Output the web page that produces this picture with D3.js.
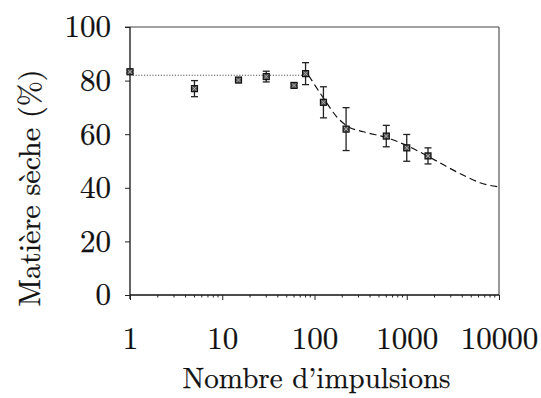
<!DOCTYPE html>
<html>
<head>
<meta charset="utf-8">
<script src="https://cdn.jsdelivr.net/npm/d3@7"></script>
<style>
  html, body { margin: 0; padding: 0; background: #fff; }
  svg { display: block; }
</style>
</head>
<body>
<svg id="chart" width="541" height="398"></svg>
<script>
// ---- data ----
const pulses = [1, 5, 15, 30, 60, 80, 125, 220, 600, 1000, 1700];
const dryMatter = [83.3, 77.0, 80.2, 81.5, 78.2, 82.6, 71.9, 61.9, 59.3, 54.9, 51.9];
const errors = [0.6, 3.0, 0.6, 2.0, 0.8, 4.1, 5.8, 8.0, 4.0, 5.0, 3.0];

const plateauX = [1, 80];
const plateauY = [82.0, 82.0];

const fitX = [86, 129, 174, 224, 339, 597, 1024, 1671, 2710, 4467, 6220, 10000];
const fitY = [82.0, 72.8, 66.5, 63.1, 60.9, 58.8, 55.6, 51.9, 47.9, 44.1, 41.9, 40.3];

const xTicks = [1, 10, 100, 1000, 10000];
const yTicks = [0, 20, 40, 60, 80, 100];
const xTitle = "Nombre d\u2019impulsions";
const yTitle = "Matière sèche (%)";

// ---- layout ----
const FONT = "Latin Modern Roman";
const svg = d3.select("#chart");
const pLeft = 130, pRight = 499, pTop = 27, pBottom = 295;

const x = d3.scaleLog().domain([1, 10000]).range([pLeft, pRight]);
const y = d3.scaleLinear().domain([0, 100]).range([pBottom, pTop]);

// frame (top/right)
svg.append("line").attr("x1", pLeft - 5).attr("x2", pRight).attr("y1", pTop).attr("y2", pTop)
  .attr("stroke", "#444").attr("stroke-width", 1.2);
svg.append("line").attr("x1", pRight).attr("x2", pRight).attr("y1", pTop).attr("y2", pBottom)
  .attr("stroke", "#555").attr("stroke-width", 1.2);

// y axis
const yAxis = d3.axisLeft(y).tickValues(yTicks).tickSize(5).tickFormat(d3.format("d"));
const gy = svg.append("g").attr("transform", `translate(${pLeft},0)`).call(yAxis)
  .attr("font-family", FONT).attr("font-size", 31);
gy.select(".domain").attr("stroke", "#111").attr("stroke-width", 1.3).attr("d", `M0,${pTop}V${pBottom + 4}`);
gy.selectAll(".tick line").attr("stroke", "#222");
gy.selectAll(".tick text").attr("x", -19).attr("fill", "#111")
  .attr("stroke", "#111").attr("stroke-width", 0.25);

// x axis with minor ticks
const minor = [];
for (let dec = 1; dec < 10000; dec *= 10) for (let k = 2; k <= 9; k++) minor.push(dec * k);
const xAxis = d3.axisBottom(x).tickValues(xTicks).tickSize(5).tickFormat(d3.format("d"));
const gx = svg.append("g").attr("transform", `translate(0,${pBottom})`).call(xAxis)
  .attr("font-family", FONT).attr("font-size", 31);
gx.select(".domain").attr("stroke", "#111").attr("stroke-width", 1.3).attr("d", `M${pLeft},0H${pRight}`);
gx.selectAll(".tick line").attr("stroke", "#222");
gx.selectAll(".tick text").attr("y", 54).attr("dy", 0).attr("fill", "#111")
  .attr("stroke", "#111").attr("stroke-width", 0.25);
gx.selectAll(".minor").data(minor).enter().append("line")
  .attr("class", "minor")
  .attr("x1", d => x(d)).attr("x2", d => x(d)).attr("y1", 0).attr("y2", 2.5)
  .attr("stroke", "#222").attr("stroke-width", 1);

// titles
svg.append("text").attr("x", (pLeft + pRight) / 2 + 2).attr("y", 388)
  .attr("text-anchor", "middle").attr("font-family", FONT).attr("font-size", 29).attr("fill", "#111")
  .attr("stroke", "#111").attr("stroke-width", 0.25)
  .text(xTitle);
svg.append("text").attr("transform", "translate(40,188) rotate(-90)")
  .attr("text-anchor", "middle").attr("font-family", FONT).attr("font-size", 30).attr("fill", "#111")
  .attr("stroke", "#111").attr("stroke-width", 0.25)
  .text(yTitle);

// plateau (dotted)
const line = d3.line().x(d => x(d[0])).y(d => y(d[1]));
svg.append("path").datum(d3.zip(plateauX, plateauY)).attr("d", line)
  .attr("fill", "none").attr("stroke", "#555").attr("stroke-width", 1.1).attr("stroke-dasharray", "1.2,1.6");

// fitted curve (dashed)
const curve = d3.line().x(d => x(d[0])).y(d => y(d[1])).curve(d3.curveMonotoneX);
svg.append("path").datum(d3.zip(fitX, fitY)).attr("d", curve)
  .attr("fill", "none").attr("stroke", "#111").attr("stroke-width", 1.2).attr("stroke-dasharray", "7,4");

// error bars
const pts = pulses.map((p, i) => ({ p, v: dryMatter[i], e: errors[i] }));
const eb = svg.append("g").attr("stroke", "#222").attr("stroke-width", 1.3);
pts.forEach(d => {
  const cx = x(d.p);
  eb.append("line").attr("x1", cx).attr("x2", cx).attr("y1", y(d.v - d.e)).attr("y2", y(d.v + d.e));
  [d.v - d.e, d.v + d.e].forEach(v => {
    eb.append("line").attr("x1", cx - 3.5).attr("x2", cx + 3.5).attr("y1", y(v)).attr("y2", y(v));
  });
});

// markers
const mk = svg.append("g");
pts.forEach(d => {
  const cx = x(d.p), cy = y(d.v);
  mk.append("rect").attr("x", cx - 3).attr("y", cy - 3).attr("width", 6).attr("height", 6)
    .attr("fill", "#555").attr("stroke", "#111").attr("stroke-width", 1.2);
  mk.append("path").attr("d", `M${cx - 2},${cy - 2}L${cx + 2},${cy + 2}M${cx + 2},${cy - 2}L${cx - 2},${cy + 2}`)
    .attr("stroke", "#bbb").attr("stroke-width", 0.8);
});
</script>
</body>
</html>
